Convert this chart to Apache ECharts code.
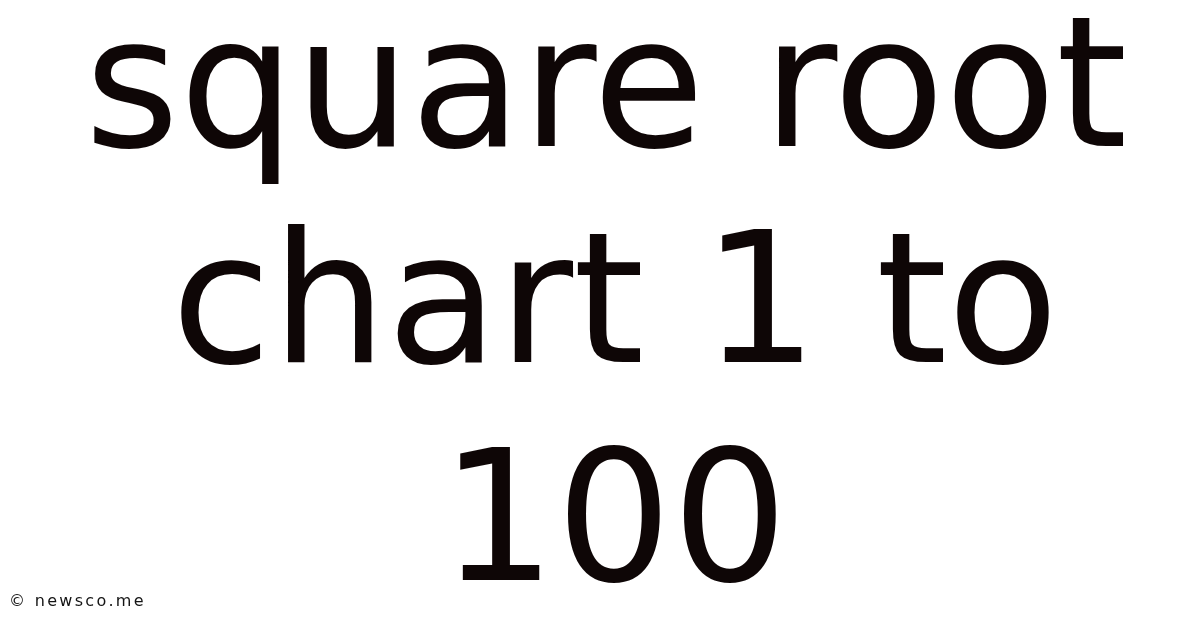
<!DOCTYPE html>
<html>
<head>
<meta charset="utf-8">
<script src="https://cdn.jsdelivr.net/npm/echarts@6/dist/echarts.min.js"></script>
<style>
html,body{margin:0;padding:0;background:#fff;}
#main{width:1200px;height:628px;}
</style>
</head>
<body>
<div id="main"></div>
<script>
// headline lines and footer credit
var titleLines = ['square root', 'chart 1 to', '100'];
var creditText = '© newsco.me';

var chart = echarts.init(document.getElementById('main'), null, {renderer: 'canvas'});

var lineX = [606, 615, 614];
var lineY = [99, 315, 533]; // middle of each line
var elements = titleLines.map(function (t, i) {
    return {
        type: 'text',
        x: lineX[i],
        y: lineY[i],
        style: {
            text: t,
            fill: '#0e0606',
            font: '182px "DejaVu Sans"',
            textAlign: 'center',
            textVerticalAlign: 'middle'
        }
    };
});

// credit is drawn letter by letter, it is spaced out wider than the font
var creditFont = '16px "DejaVu Sans"';
var ctx = document.createElement('canvas').getContext('2d');
ctx.font = creditFont;
var cx = 9;
creditText.split('').forEach(function (ch) {
    elements.push({
        type: 'text',
        x: cx,
        y: 602,
        style: {
            text: ch,
            fill: '#141414',
            font: creditFont,
            textAlign: 'left',
            textVerticalAlign: 'middle'
        }
    });
    cx += ctx.measureText(ch).width + 2.3;
});

var option = {
    backgroundColor: '#ffffff',
    animation: false,
    graphic: elements
};
chart.setOption(option);
</script>
</body>
</html>
